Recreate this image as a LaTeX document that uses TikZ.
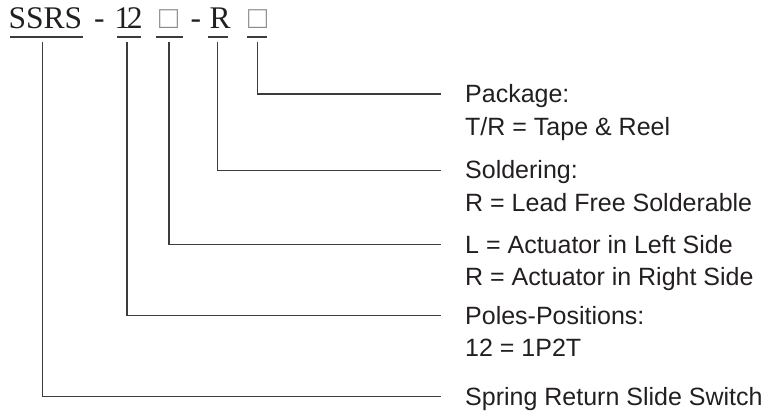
\documentclass[tikz,border=0pt]{standalone}
\usepackage{fontspec}
\setmainfont{Liberation Serif}
\newfontfamily\labfont{Liberation Sans}
\definecolor{txt}{RGB}{35,31,32}
\definecolor{ln}{RGB}{60,60,60}
\definecolor{bx}{RGB}{140,140,140}
\begin{document}
\begin{tikzpicture}[x=1pt,y=-1pt,
  code/.style={inner sep=0pt,anchor=base west,text=txt,font=\fontsize{31.5}{36}\selectfont},
  boxch/.style={code,text=bx},
  lab/.style={inner sep=0pt,anchor=base west,text=txt,font=\labfont\fontsize{25}{30}\selectfont},
  uline/.style={draw=ln,line width=1.8pt},
  conn/.style={draw=ln,line width=1.4pt}]
\useasboundingbox (0,0) rectangle (779,418);
% code string
\node[code] (c1) at (8.5,28.3) {SSRS};
\node[code] (d1) at (94,28.3) {-};
\node[code] (c2) at (114.5,28.3) {1\kern-3.5pt2};
\node[boxch] (c3) at (159,28.3) {□};
\node[code] (d2) at (190.5,28.3) {-};
\node[code] (c4) at (209.5,28.3) {R};
\node[boxch] (c5) at (248,28.3) {□};
% underlines
\coordinate (u1a) at (10,37.3);  \coordinate (u1b) at (83,37.3);
\coordinate (u2a) at (117,37.3); \coordinate (u2b) at (141,37.3);
\coordinate (u3a) at (156,37.3); \coordinate (u3b) at (183,37.3);
\coordinate (u4a) at (208,37.3); \coordinate (u4b) at (228,37.3);
\coordinate (u5a) at (247,37.3); \coordinate (u5b) at (267,37.3);
\draw[uline] (u1a) -- (u1b);
\draw[uline] (u2a) -- (u2b);
\draw[uline] (u3a) -- (u3b);
\draw[uline] (u4a) -- (u4b);
\draw[uline] (u5a) -- (u5b);
% connector starts
\coordinate (s1) at (42.3,41.7);
\coordinate (s2) at (127,41.7);
\coordinate (s3) at (169,41.7);
\coordinate (s4) at (217.7,41.7);
\coordinate (s5) at (257.5,41.7);
% connector ends
\coordinate (e5) at (441,94);
\coordinate (e4) at (441,170.3);
\coordinate (e3) at (441,244.7);
\coordinate (e2) at (441,315.7);
\coordinate (e1) at (441,396.7);
\draw[conn] (s5) |- (e5);
\draw[conn] (s4) |- (e4);
\draw[conn] (s3) |- (e3);
\draw[conn] (s2) |- (e2);
\draw[conn] (s1) |- (e1);
% labels
\node[lab] (p1) at (465,102.5) {Package:};
\node[lab] (p2) at (465,135.2) {T/R = Tape \& Reel};
\node[lab] (q1) at (465,178.8) {Soldering:};
\node[lab] (q2) at (465,211.5) {R = Lead Free Solderable};
\node[lab] (r1) at (465,253.2) {L = Actuator in Left Side};
\node[lab] (r2) at (465,285.9) {R = Actuator in Right Side};
\node[lab] (t1) at (465,324.2) {Poles-Positions:};
\node[lab] (t2) at (465,356.9) {12 = 1P2T};
\node[lab] (w1) at (465,405.2) {Spring Return Slide Switch};
\end{tikzpicture}
\end{document}
